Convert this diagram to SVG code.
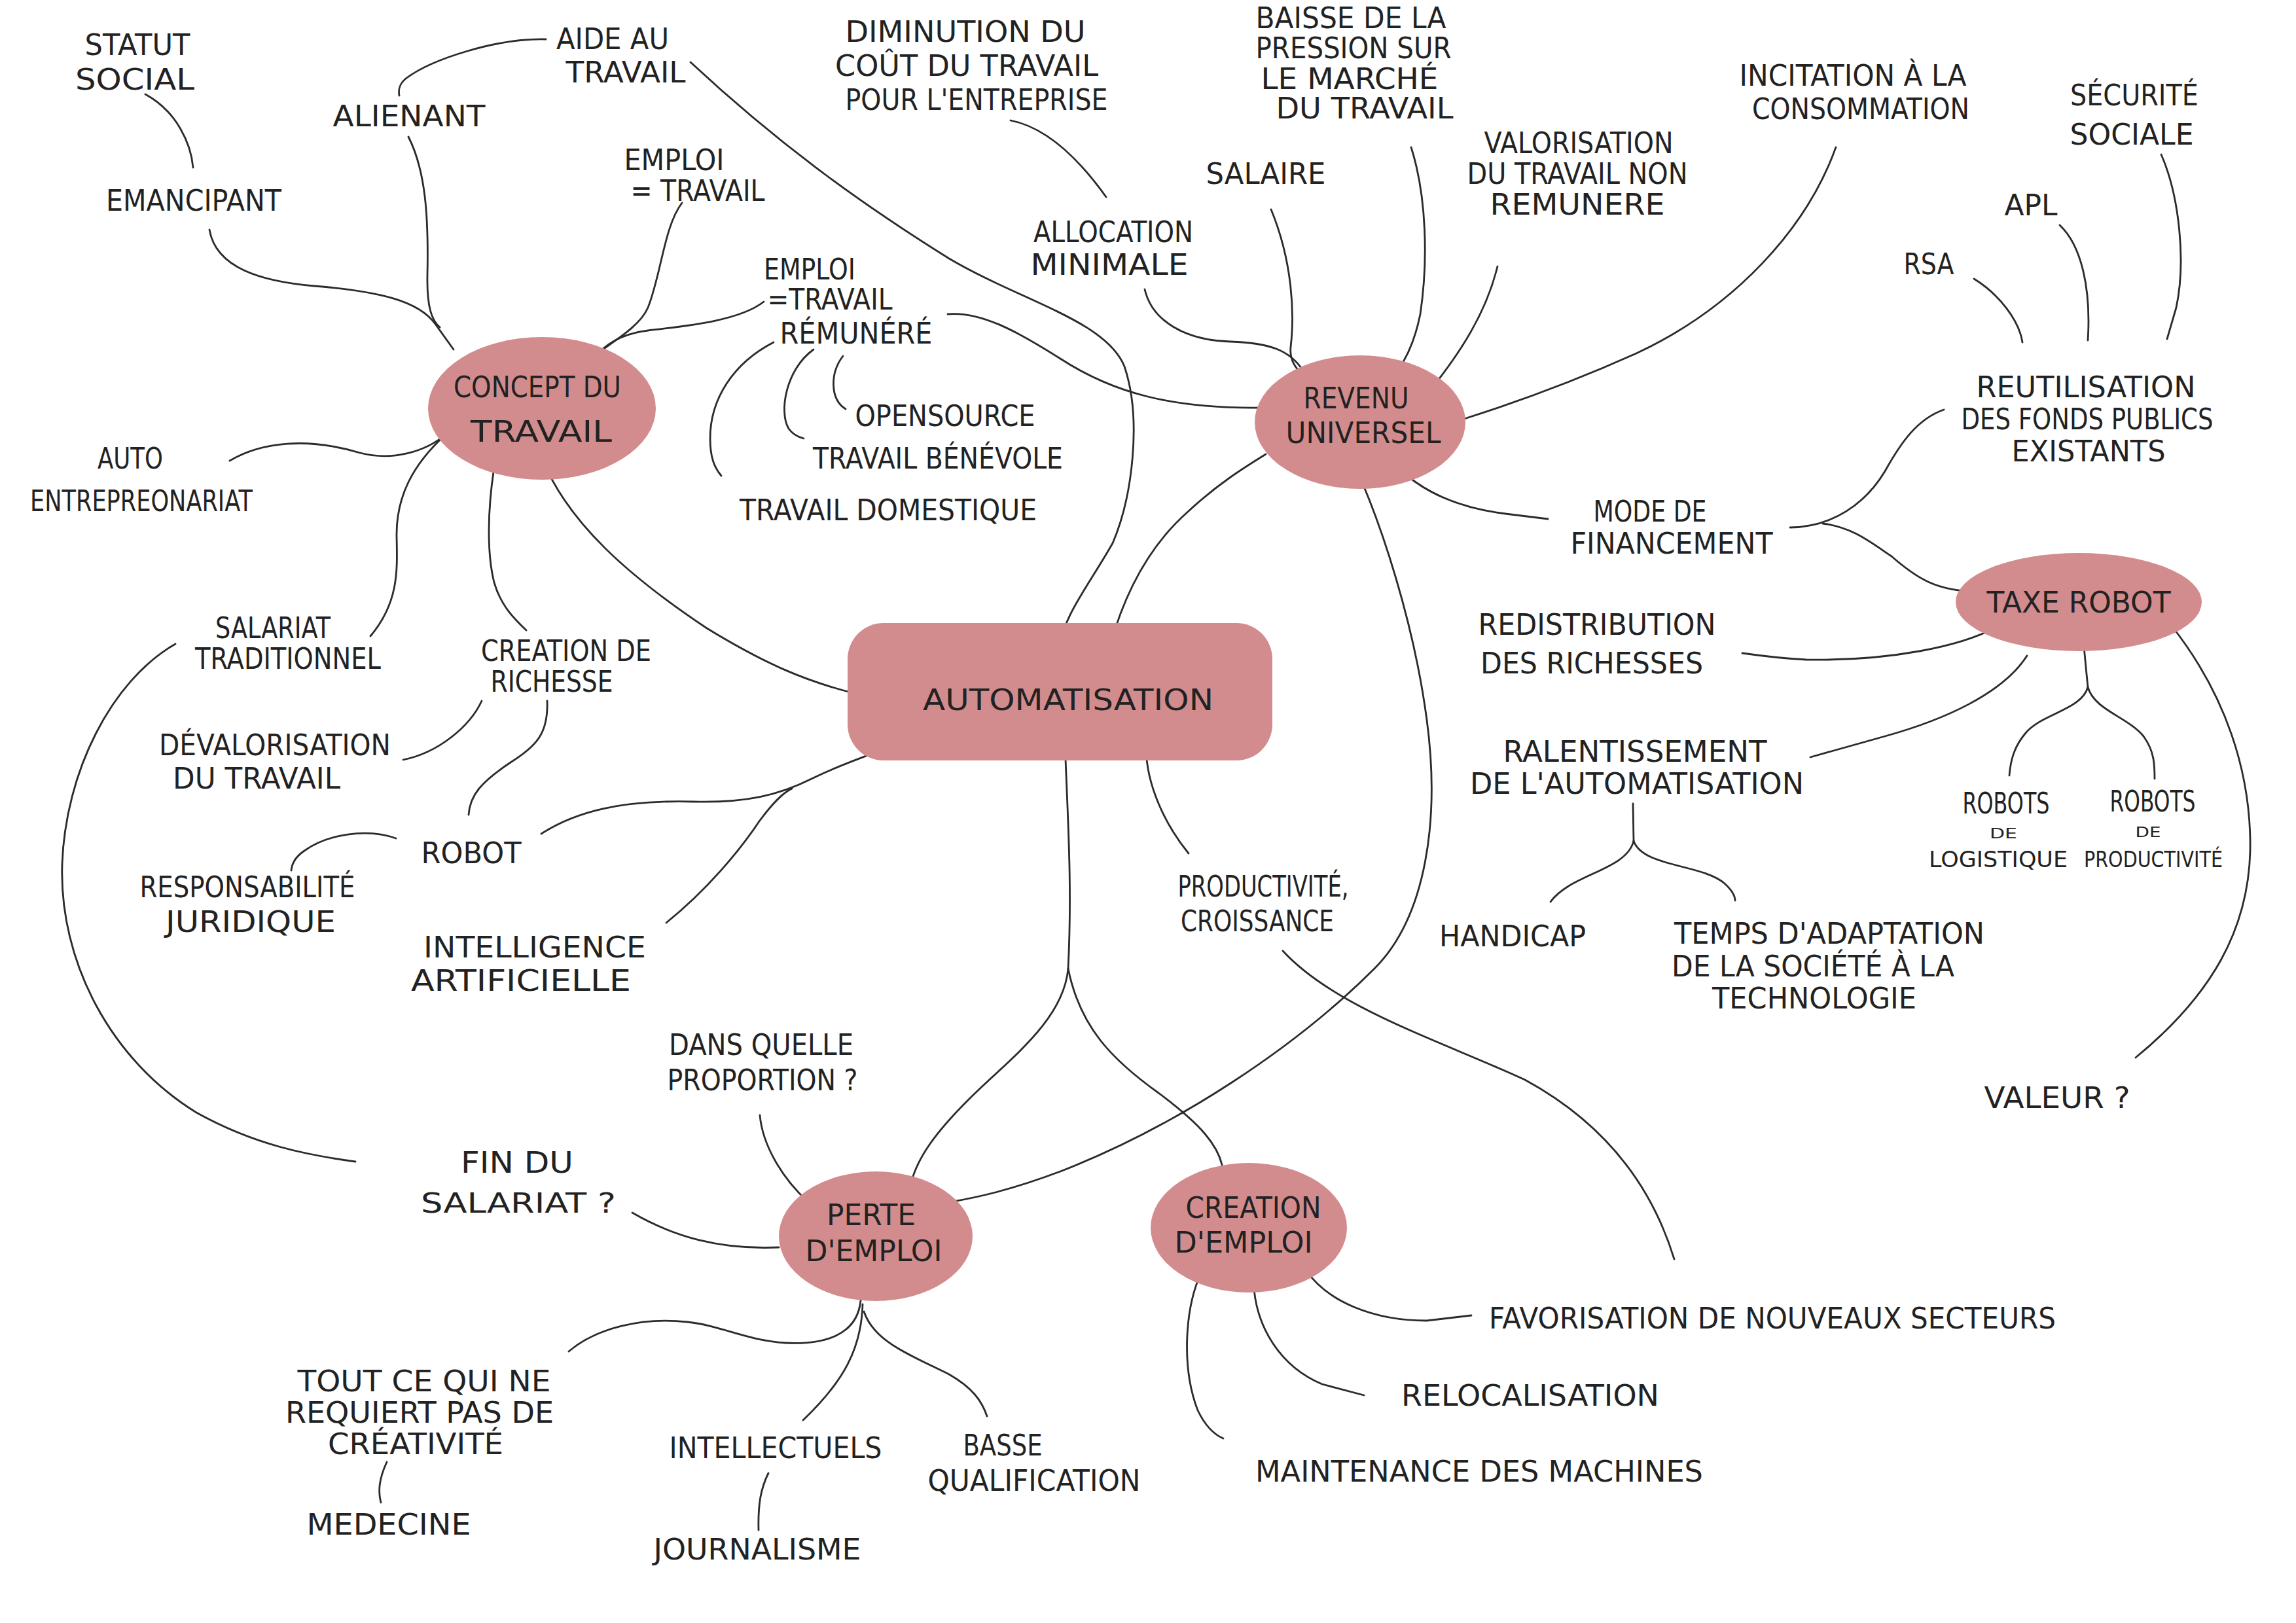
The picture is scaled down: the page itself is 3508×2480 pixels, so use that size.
<svg xmlns="http://www.w3.org/2000/svg" width="3508" height="2480" viewBox="0 0 3508 2480">
<style>
.c{fill:none;stroke:#2b2b2b;stroke-width:2.8;stroke-linecap:round;stroke-linejoin:round}
.n{fill:#d38c8e}
text{font-family:"DejaVu Sans","Liberation Sans",sans-serif;font-weight:normal;fill:#222;text-anchor:middle;font-size:44px}
tspan{text-anchor:middle}
</style>
<rect width="3508" height="2480" fill="#fff"/>
<g id="connectors">
<path class="c" d="M320,351 C330,410 400,430 480,437 C580,445 640,460 665,495 L693,534"/>
<path class="c" d="M222,144 C270,170 292,220 295,256"/>
<path class="c" d="M624,209 C650,260 655,330 653,420 C652,470 660,490 672,500"/>
<path class="c" d="M834,60 C760,58 660,90 620,120 C608,130 609,140 610,146"/>
<path class="c" d="M1055,95 C1200,230 1330,320 1450,395 C1560,460 1690,490 1718,560 C1745,640 1730,760 1700,830 C1660,900 1625,940 1617,995"/>
<path class="c" d="M1042,310 C1015,345 1010,420 990,470 C975,505 920,530 880,565"/>
<path class="c" d="M1167,461 C1130,490 1050,498 990,505 C950,510 925,525 905,550"/>
<path class="c" d="M1448,480 C1500,475 1560,510 1620,548 C1700,600 1790,625 1930,623"/>
<path class="c" d="M1288,544 C1268,570 1268,610 1292,625"/>
<path class="c" d="M1243,534 C1200,565 1190,630 1205,655 C1212,665 1220,668 1228,670"/>
<path class="c" d="M1182,523 C1120,555 1085,610 1085,670 C1085,700 1092,715 1102,727"/>
<path class="c" d="M351,704 C400,675 470,668 550,692 C600,705 650,690 681,664"/>
<path class="c" d="M681,664 C630,710 605,760 606,820 C607,870 610,920 566,972"/>
<path class="c" d="M754,721 C744,790 745,850 755,890 C765,925 785,945 804,963"/>
<path class="c" d="M830,705 C870,800 960,880 1080,960 C1170,1015 1230,1040 1300,1058 L1360,1064"/>
<path class="c" d="M736,1071 C718,1110 670,1150 616,1161"/>
<path class="c" d="M836,1071 C838,1120 820,1140 780,1165 C735,1195 718,1215 716,1245"/>
<path class="c" d="M605,1281 C560,1265 500,1275 465,1300 C450,1310 446,1320 445,1330"/>
<path class="c" d="M827,1274 C880,1240 950,1222 1060,1225 C1140,1227 1190,1215 1240,1190 C1290,1165 1340,1150 1382,1133"/>
<path class="c" d="M1018,1410 C1080,1360 1130,1300 1160,1255 C1180,1228 1195,1212 1210,1205"/>
<path class="c" d="M1696,987 C1720,900 1760,830 1816,781 C1860,740 1900,715 1934,694"/>
<path class="c" d="M1751,1144 C1752,1200 1780,1260 1816,1304"/>
<path class="c" d="M1628,1160 C1632,1260 1638,1360 1632,1480"/>
<path class="c" d="M1632,1480 C1625,1560 1540,1620 1480,1680 C1430,1730 1400,1770 1391,1812"/>
<path class="c" d="M1632,1480 C1650,1570 1700,1620 1770,1670 C1830,1715 1865,1750 1869,1791"/>
<path class="c" d="M2072,716 C2110,800 2160,950 2180,1100 C2200,1250 2180,1400 2100,1480 C1980,1600 1800,1720 1620,1790 C1540,1820 1490,1830 1456,1836"/>
<path class="c" d="M1960,1453 C2040,1540 2200,1590 2330,1650 C2440,1710 2520,1800 2558,1924"/>
<path class="c" d="M1749,442 C1760,490 1810,520 1880,522 C1940,524 1970,535 1990,565"/>
<path class="c" d="M1942,320 C1975,400 1978,480 1972,530 C1970,550 1980,565 1992,572"/>
<path class="c" d="M1544,184 C1600,195 1650,245 1690,301"/>
<path class="c" d="M2156,225 C2180,300 2182,400 2170,480 C2162,520 2150,545 2137,564"/>
<path class="c" d="M2288,407 C2270,480 2230,540 2187,594"/>
<path class="c" d="M2805,225 C2760,350 2650,470 2500,540 C2400,585 2300,620 2237,640"/>
<path class="c" d="M2122,699 C2160,745 2220,775 2300,785 L2365,793"/>
<path class="c" d="M2735,806 C2800,805 2850,770 2880,720 C2905,675 2930,640 2970,626"/>
<path class="c" d="M2785,800 C2830,805 2860,830 2890,850 C2930,885 2960,903 3020,904"/>
<path class="c" d="M3016,426 C3055,450 3085,490 3090,523"/>
<path class="c" d="M3147,344 C3180,375 3195,440 3190,520"/>
<path class="c" d="M3302,236 C3330,300 3340,400 3325,470 L3311,518"/>
<path class="c" d="M3061,952 C3000,990 2880,1010 2760,1008 C2720,1006 2690,1002 2662,998"/>
<path class="c" d="M3097,1002 C3060,1060 2970,1100 2880,1125 L2766,1157"/>
<path class="c" d="M3182,965 C3185,1000 3188,1030 3190,1050"/>
<path class="c" d="M3190,1050 C3180,1085 3120,1090 3095,1120 C3078,1140 3072,1160 3070,1185"/>
<path class="c" d="M3190,1050 C3200,1085 3250,1095 3275,1125 C3292,1148 3292,1170 3292,1190"/>
<path class="c" d="M3317,955 C3400,1060 3440,1180 3438,1300 C3435,1420 3380,1520 3263,1616"/>
<path class="c" d="M2495,1228 L2496,1285"/>
<path class="c" d="M2496,1285 C2485,1330 2400,1335 2369,1378"/>
<path class="c" d="M2496,1285 C2510,1325 2600,1320 2635,1350 C2648,1362 2651,1370 2651,1376"/>
<path class="c" d="M1161,1704 C1165,1750 1195,1800 1234,1836"/>
<path class="c" d="M966,1853 C1030,1890 1100,1910 1190,1906"/>
<path class="c" d="M268,984 C170,1040 100,1180 95,1320 C90,1470 170,1620 300,1700 C390,1750 470,1765 543,1775"/>
<path class="c" d="M1315,1987 C1310,2040 1260,2055 1200,2052 C1140,2048 1100,2025 1050,2020 C980,2012 910,2030 869,2065"/>
<path class="c" d="M1318,1993 C1316,2060 1290,2110 1227,2170"/>
<path class="c" d="M1320,2004 C1335,2050 1390,2070 1450,2100 C1485,2120 1500,2140 1508,2164"/>
<path class="c" d="M591,2234 C578,2262 578,2280 582,2296"/>
<path class="c" d="M1174,2251 C1162,2275 1158,2300 1159,2338"/>
<path class="c" d="M1996,1942 C2030,1990 2100,2018 2180,2018 L2248,2010"/>
<path class="c" d="M1915,1949 C1915,2030 1960,2090 2020,2115 L2084,2132"/>
<path class="c" d="M1835,1945 C1810,2000 1805,2090 1830,2155 C1842,2180 1855,2192 1869,2198"/>
</g>
<g id="automatisation"><rect class="n" x="1295" y="952" width="649" height="210" rx="55"/><text font-size="58" x="1632" y="1085" textLength="444" lengthAdjust="spacingAndGlyphs">AUTOMATISATION</text></g>
<g id="concept-du-travail"><ellipse class="n" cx="828" cy="624" rx="174" ry="109"/><text font-size="40"><tspan x="821" y="607" textLength="256" lengthAdjust="spacingAndGlyphs">CONCEPT DU</tspan><tspan x="827" y="675" font-size="44" textLength="216" lengthAdjust="spacingAndGlyphs">TRAVAIL</tspan></text></g>
<g id="revenu-universel"><ellipse class="n" cx="2078" cy="645" rx="161" ry="102"/><text font-size="34"><tspan x="2072" y="624" textLength="161" lengthAdjust="spacingAndGlyphs">REVENU</tspan><tspan x="2083" y="677" textLength="237" lengthAdjust="spacingAndGlyphs">UNIVERSEL</tspan></text></g>
<g id="taxe-robot"><ellipse class="n" cx="3176" cy="920" rx="188" ry="75"/><text font-size="50" x="3176" y="936" textLength="281" lengthAdjust="spacingAndGlyphs">TAXE ROBOT</text></g>
<g id="perte-emploi"><ellipse class="n" cx="1338" cy="1889" rx="148" ry="99"/><text font-size="34"><tspan x="1331" y="1872" textLength="136" lengthAdjust="spacingAndGlyphs">PERTE</tspan><tspan x="1335" y="1927" textLength="209" lengthAdjust="spacingAndGlyphs">D'EMPLOI</tspan></text></g>
<g id="creation-emploi"><ellipse class="n" cx="1908" cy="1876" rx="150" ry="99"/><text font-size="33"><tspan x="1915" y="1861" textLength="207" lengthAdjust="spacingAndGlyphs">CREATION</tspan><tspan x="1900" y="1914" textLength="211" lengthAdjust="spacingAndGlyphs">D'EMPLOI</tspan></text></g>
<g id="statut-social"><text font-size="34"><tspan x="210" y="84" textLength="161" lengthAdjust="spacingAndGlyphs">STATUT</tspan><tspan x="206" y="137" textLength="182" lengthAdjust="spacingAndGlyphs">SOCIAL</tspan></text></g>
<g id="aide-au-travail"><text font-size="33"><tspan x="936" y="75" textLength="172" lengthAdjust="spacingAndGlyphs">AIDE AU</tspan><tspan x="956" y="126" textLength="183" lengthAdjust="spacingAndGlyphs">TRAVAIL</tspan></text></g>
<g id="alienant"><text x="625" y="193" textLength="233" lengthAdjust="spacingAndGlyphs">ALIENANT</text></g>
<g id="emancipant"><text x="296" y="322" textLength="268" lengthAdjust="spacingAndGlyphs">EMANCIPANT</text></g>
<g id="emploi-travail"><text font-size="30"><tspan x="1030" y="260" textLength="153" lengthAdjust="spacingAndGlyphs">EMPLOI</tspan><tspan x="1066" y="307" textLength="205" lengthAdjust="spacingAndGlyphs">= TRAVAIL</tspan></text></g>
<g id="auto-entrepreneuriat"><text font-size="40"><tspan x="199" y="716" textLength="100" lengthAdjust="spacingAndGlyphs">AUTO</tspan><tspan x="216" y="781" textLength="340" lengthAdjust="spacingAndGlyphs">ENTREPREONARIAT</tspan></text></g>
<g id="diminution-cout"><text font-size="33"><tspan x="1475" y="64" textLength="367" lengthAdjust="spacingAndGlyphs">DIMINUTION DU</tspan><tspan x="1477" y="116" textLength="402" lengthAdjust="spacingAndGlyphs">COÛT DU TRAVAIL</tspan><tspan x="1492" y="168" textLength="401" lengthAdjust="spacingAndGlyphs">POUR L'ENTREPRISE</tspan></text></g>
<g id="baisse-pression"><text font-size="29"><tspan x="2064" y="43" textLength="291" lengthAdjust="spacingAndGlyphs">BAISSE DE LA</tspan><tspan x="2068" y="89" textLength="299" lengthAdjust="spacingAndGlyphs">PRESSION SUR</tspan><tspan x="2062" y="136" textLength="271" lengthAdjust="spacingAndGlyphs">LE MARCHÉ</tspan><tspan x="2085" y="181" textLength="271" lengthAdjust="spacingAndGlyphs">DU TRAVAIL</tspan></text></g>
<g id="salaire"><text x="1934" y="281" textLength="183" lengthAdjust="spacingAndGlyphs">SALAIRE</text></g>
<g id="valorisation"><text font-size="30"><tspan x="2412" y="234" textLength="289" lengthAdjust="spacingAndGlyphs">VALORISATION</tspan><tspan x="2410" y="281" textLength="337" lengthAdjust="spacingAndGlyphs">DU TRAVAIL NON</tspan><tspan x="2410" y="328" textLength="267" lengthAdjust="spacingAndGlyphs">REMUNERE</tspan></text></g>
<g id="allocation-minimale"><text font-size="32"><tspan x="1701" y="370" textLength="244" lengthAdjust="spacingAndGlyphs">ALLOCATION</tspan><tspan x="1695" y="420" textLength="241" lengthAdjust="spacingAndGlyphs">MINIMALE</tspan></text></g>
<g id="emploi-remunere"><text font-size="29"><tspan x="1237" y="427" textLength="140" lengthAdjust="spacingAndGlyphs">EMPLOI</tspan><tspan x="1268" y="473" textLength="191" lengthAdjust="spacingAndGlyphs">=TRAVAIL</tspan><tspan x="1308" y="525" textLength="233" lengthAdjust="spacingAndGlyphs">RÉMUNÉRÉ</tspan></text></g>
<g id="opensource"><text font-size="40" x="1444" y="651" textLength="275" lengthAdjust="spacingAndGlyphs">OPENSOURCE</text></g>
<g id="travail-benevole"><text font-size="40" x="1433" y="716" textLength="382" lengthAdjust="spacingAndGlyphs">TRAVAIL BÉNÉVOLE</text></g>
<g id="travail-domestique"><text x="1357" y="795" textLength="454" lengthAdjust="spacingAndGlyphs">TRAVAIL DOMESTIQUE</text></g>
<g id="incitation"><text font-size="32"><tspan x="2831" y="131" textLength="347" lengthAdjust="spacingAndGlyphs">INCITATION À LA</tspan><tspan x="2843" y="182" textLength="332" lengthAdjust="spacingAndGlyphs">CONSOMMATION</tspan></text></g>
<g id="securite-sociale"><text font-size="38"><tspan x="3261" y="161" textLength="196" lengthAdjust="spacingAndGlyphs">SÉCURITÉ</tspan><tspan x="3257" y="221" textLength="189" lengthAdjust="spacingAndGlyphs">SOCIALE</tspan></text></g>
<g id="apl"><text font-size="48" x="3103" y="329" textLength="81" lengthAdjust="spacingAndGlyphs">APL</text></g>
<g id="rsa"><text font-size="42" x="2947" y="419" textLength="77" lengthAdjust="spacingAndGlyphs">RSA</text></g>
<g id="reutilisation"><text font-size="31"><tspan x="3187" y="607" textLength="335" lengthAdjust="spacingAndGlyphs">REUTILISATION</tspan><tspan x="3189" y="656" textLength="385" lengthAdjust="spacingAndGlyphs">DES FONDS PUBLICS</tspan><tspan x="3191" y="705" textLength="235" lengthAdjust="spacingAndGlyphs">EXISTANTS</tspan></text></g>
<g id="mode-financement"><text font-size="31"><tspan x="2521" y="797" textLength="173" lengthAdjust="spacingAndGlyphs">MODE DE</tspan><tspan x="2554" y="846" textLength="309" lengthAdjust="spacingAndGlyphs">FINANCEMENT</tspan></text></g>
<g id="redistribution"><text font-size="37"><tspan x="2440" y="970" textLength="363" lengthAdjust="spacingAndGlyphs">REDISTRIBUTION</tspan><tspan x="2432" y="1029" textLength="340" lengthAdjust="spacingAndGlyphs">DES RICHESSES</tspan></text></g>
<g id="ralentissement"><text font-size="31"><tspan x="2498" y="1164" textLength="403" lengthAdjust="spacingAndGlyphs">RALENTISSEMENT</tspan><tspan x="2501" y="1213" textLength="510" lengthAdjust="spacingAndGlyphs">DE L'AUTOMATISATION</tspan></text></g>
<g id="handicap"><text x="2311" y="1446" textLength="224" lengthAdjust="spacingAndGlyphs">HANDICAP</text></g>
<g id="temps-adaptation"><text font-size="31"><tspan x="2795" y="1442" textLength="474" lengthAdjust="spacingAndGlyphs">TEMPS D'ADAPTATION</tspan><tspan x="2770" y="1492" textLength="432" lengthAdjust="spacingAndGlyphs">DE LA SOCIÉTÉ À LA</tspan><tspan x="2772" y="1541" textLength="312" lengthAdjust="spacingAndGlyphs">TECHNOLOGIE</tspan></text></g>
<g id="robots-logistique"><text font-size="26"><tspan x="3065" y="1243" textLength="133" lengthAdjust="spacingAndGlyphs">ROBOTS</tspan><tspan x="3061" y="1281" font-size="22" textLength="42" lengthAdjust="spacingAndGlyphs">DE</tspan><tspan x="3053" y="1325" font-size="34" textLength="212" lengthAdjust="spacingAndGlyphs">LOGISTIQUE</tspan></text></g>
<g id="robots-productivite"><text font-size="26"><tspan x="3289" y="1240" textLength="131" lengthAdjust="spacingAndGlyphs">ROBOTS</tspan><tspan x="3282" y="1279" font-size="22" textLength="39" lengthAdjust="spacingAndGlyphs">DE</tspan><tspan x="3290" y="1325" font-size="33" textLength="212" lengthAdjust="spacingAndGlyphs">PRODUCTIVITÉ</tspan></text></g>
<g id="valeur"><text font-size="50" x="3143" y="1693" textLength="223" lengthAdjust="spacingAndGlyphs">VALEUR ?</text></g>
<g id="salariat-traditionnel"><text font-size="30"><tspan x="417" y="975" textLength="176" lengthAdjust="spacingAndGlyphs">SALARIAT</tspan><tspan x="440" y="1022" textLength="284" lengthAdjust="spacingAndGlyphs">TRADITIONNEL</tspan></text></g>
<g id="creation-richesse"><text font-size="30"><tspan x="865" y="1010" textLength="260" lengthAdjust="spacingAndGlyphs">CREATION DE</tspan><tspan x="843" y="1057" textLength="187" lengthAdjust="spacingAndGlyphs">RICHESSE</tspan></text></g>
<g id="devalorisation"><text font-size="32"><tspan x="420" y="1154" textLength="354" lengthAdjust="spacingAndGlyphs">DÉVALORISATION</tspan><tspan x="392" y="1205" textLength="256" lengthAdjust="spacingAndGlyphs">DU TRAVAIL</tspan></text></g>
<g id="robot"><text x="720" y="1319" textLength="153" lengthAdjust="spacingAndGlyphs">ROBOT</text></g>
<g id="responsabilite"><text font-size="33"><tspan x="378" y="1371" textLength="329" lengthAdjust="spacingAndGlyphs">RESPONSABILITÉ</tspan><tspan x="383" y="1424" textLength="260" lengthAdjust="spacingAndGlyphs">JURIDIQUE</tspan></text></g>
<g id="intelligence-artificielle"><text font-size="32"><tspan x="817" y="1463" textLength="340" lengthAdjust="spacingAndGlyphs">INTELLIGENCE</tspan><tspan x="796" y="1514" textLength="336" lengthAdjust="spacingAndGlyphs">ARTIFICIELLE</tspan></text></g>
<g id="dans-quelle-proportion"><text font-size="34"><tspan x="1163" y="1612" textLength="282" lengthAdjust="spacingAndGlyphs">DANS QUELLE</tspan><tspan x="1165" y="1666" textLength="291" lengthAdjust="spacingAndGlyphs">PROPORTION ?</tspan></text></g>
<g id="fin-du-salariat"><text font-size="36"><tspan x="790" y="1792" textLength="172" lengthAdjust="spacingAndGlyphs">FIN DU</tspan><tspan x="792" y="1853" font-size="42" textLength="298" lengthAdjust="spacingAndGlyphs">SALARIAT ?</tspan></text></g>
<g id="creativite"><text font-size="30"><tspan x="648" y="2126" textLength="387" lengthAdjust="spacingAndGlyphs">TOUT CE QUI NE</tspan><tspan x="641" y="2174" textLength="410" lengthAdjust="spacingAndGlyphs">REQUIERT PAS DE</tspan><tspan x="635" y="2222" textLength="268" lengthAdjust="spacingAndGlyphs">CRÉATIVITÉ</tspan></text></g>
<g id="medecine"><text x="594" y="2345" textLength="251" lengthAdjust="spacingAndGlyphs">MEDECINE</text></g>
<g id="intellectuels"><text x="1185" y="2228" textLength="325" lengthAdjust="spacingAndGlyphs">INTELLECTUELS</text></g>
<g id="journalisme"><text x="1157" y="2383" textLength="317" lengthAdjust="spacingAndGlyphs">JOURNALISME</text></g>
<g id="basse-qualification"><text font-size="34"><tspan x="1532" y="2224" textLength="121" lengthAdjust="spacingAndGlyphs">BASSE</tspan><tspan x="1580" y="2278" textLength="325" lengthAdjust="spacingAndGlyphs">QUALIFICATION</tspan></text></g>
<g id="maintenance"><text x="2260" y="2264" textLength="684" lengthAdjust="spacingAndGlyphs">MAINTENANCE DES MACHINES</text></g>
<g id="relocalisation"><text font-size="48" x="2338" y="2148" textLength="394" lengthAdjust="spacingAndGlyphs">RELOCALISATION</text></g>
<g id="favorisation"><text x="2708" y="2030" textLength="866" lengthAdjust="spacingAndGlyphs">FAVORISATION DE NOUVEAUX SECTEURS</text></g>
<g id="productivite-croissance"><text font-size="33"><tspan x="1930" y="1370" textLength="261" lengthAdjust="spacingAndGlyphs">PRODUCTIVITÉ,</tspan><tspan x="1921" y="1423" textLength="234" lengthAdjust="spacingAndGlyphs">CROISSANCE</tspan></text></g>
</svg>
